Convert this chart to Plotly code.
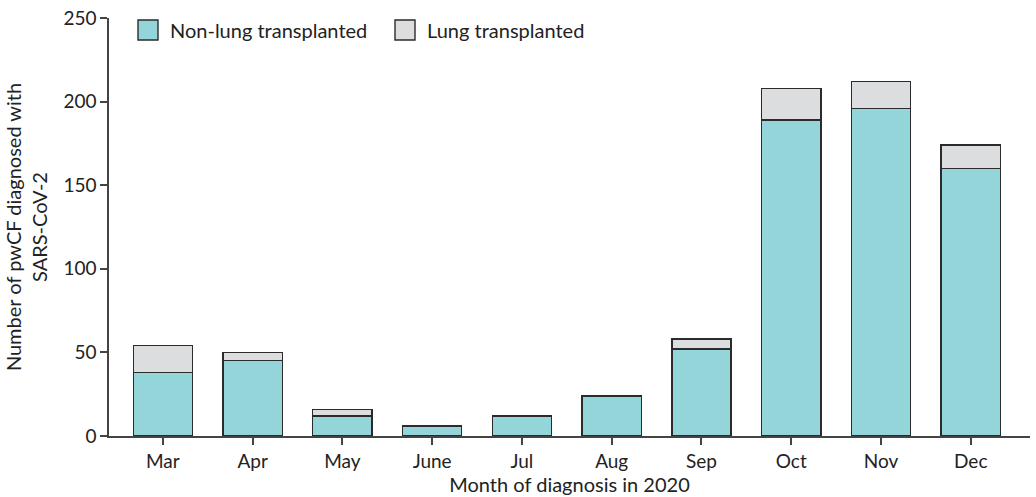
import plotly.graph_objects as go

months = ["Mar", "Apr", "May", "June", "Jul", "Aug", "Sep", "Oct", "Nov", "Dec"]
non_lung = [38, 45, 12, 6, 12, 24, 52, 189, 196, 160]
lung = [16, 5, 4, 0, 0, 0, 6, 19, 16, 14]
y_ticks = [0, 50, 100, 150, 200, 250]
series_names = ["Non-lung transplanted", "Lung transplanted"]

FONT = "Source Sans Pro, Lato, Open Sans, sans-serif"
TEAL = "#93d5d9"
GREY = "#dcdddf"
EDGE = "#2b2b2b"

W, H = 1036, 497
L, R, T, B = 109, 6, 18, 61
PW, PH = W - L - R, H - T - B

def px(xpix):
    return (xpix - L) / PW

def py(ypix):
    return (H - B - ypix) / PH

fig = go.Figure()
fig.add_trace(go.Bar(x=months, y=non_lung, name=series_names[0],
                     marker=dict(color=TEAL, line=dict(color=EDGE, width=1.4)),
                     width=0.66, showlegend=False))
fig.add_trace(go.Bar(x=[m for m, v in zip(months, lung) if v > 0],
                     y=[v for v in lung if v > 0], name=series_names[1],
                     marker=dict(color=GREY, line=dict(color=EDGE, width=1.4)),
                     width=0.66, showlegend=False))

# custom legend with larger swatches
shapes = []
annotations = []
for (x0, tx), col, name in zip([(138, 168), (395, 425)], [TEAL, GREY], series_names):
    shapes.append(dict(type="rect", xref="paper", yref="paper",
                       x0=px(x0), x1=px(x0 + 20), y0=py(40), y1=py(20),
                       fillcolor=col, line=dict(color=EDGE, width=1.4)))
    annotations.append(dict(text=name, xref="paper", yref="paper", x=px(tx), y=py(30),
                            xanchor="left", yanchor="middle", showarrow=False,
                            font=dict(size=20, family=FONT, color="#222222")))

fig.update_layout(
    barmode="stack",
    width=W, height=H,
    margin=dict(l=L, r=R, t=T, b=B, autoexpand=False),
    paper_bgcolor="white", plot_bgcolor="white",
    font=dict(family=FONT, size=19, color="#222222"),
    shapes=shapes, annotations=annotations,
    xaxis=dict(type="category", categoryorder="array", categoryarray=months,
               range=[-0.6, 9.66], showline=True, linecolor="#444444", linewidth=1.5,
               ticks="outside", ticklen=7, tickcolor="#444444", tickwidth=1.5,
               tickfont=dict(size=19), automargin=False,
               title=dict(text="Month of diagnosis in 2020", font=dict(size=20), standoff=2)),
    yaxis=dict(range=[0, 250], tickvals=y_ticks, showline=True, linecolor="#444444",
               linewidth=1.5, ticks="outside", ticklen=7, tickcolor="#444444", tickwidth=1.5,
               showgrid=False, zeroline=False, tickfont=dict(size=19),
               ticklabeloverflow="allow", automargin=False,
               title=dict(text="Number of pwCF diagnosed with<br>SARS-CoV-2",
                          font=dict(size=20), standoff=10)),
)

fig.write_html("out.html", config={"displayModeBar": False},
               post_script="document.body.style.margin='0';")
